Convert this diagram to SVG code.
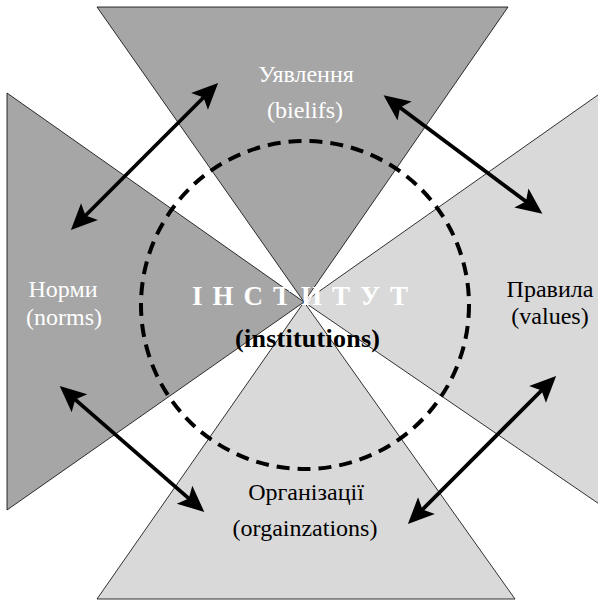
<svg xmlns="http://www.w3.org/2000/svg" width="598" height="602" viewBox="0 0 598 602">
<style>
.tri{stroke:#000;stroke-width:0.8;stroke-linejoin:miter}
.dark{fill:#a6a6a6}
.light{fill:#d9d9d9}
.lbl{font-family:"Liberation Serif","Times New Roman",serif;font-size:24px;text-anchor:middle}
.w{fill:#fff}
.b{fill:#000}
.arr{stroke:#000;stroke-width:3.8;fill:none;marker-start:url(#ah);marker-end:url(#ah)}
</style>
<defs>
<marker id="ah" markerUnits="userSpaceOnUse" markerWidth="30" markerHeight="30" refX="0" refY="0" viewBox="-10 -10 24 20" orient="auto-start-reverse" overflow="visible">
<path d="M12,0 L-9,-9.5 L-4.5,0 L-9,9.5 Z" fill="#000"/>
</marker>
</defs>
<rect width="598" height="602" fill="#fff"/>
<g id="node-top">
<polygon class="tri dark" points="97,7 508,7 304,302"/>
<text class="lbl w" x="306" y="82">Уявлення</text>
<text class="lbl w" x="305" y="118">(bielifs)</text>
</g>
<g id="node-left">
<polygon class="tri dark" points="7,93 7,510 304,302"/>
<text class="lbl w" x="63" y="297">Норми</text>
<text class="lbl w" x="64" y="325">(norms)</text>
</g>
<g id="node-right">
<polygon class="tri light" points="605,90 605,508 304,302"/>
<text class="lbl b" x="550" y="297">Правила</text>
<text class="lbl b" x="550" y="324">(values)</text>
</g>
<g id="node-bottom">
<polygon class="tri light" points="97,599 515,599 304,302"/>
<text class="lbl b" x="306" y="500">Організації</text>
<text class="lbl b" x="305" y="536">(orgainzations)</text>
</g>
<g id="node-center">
<circle cx="305" cy="305" r="164" fill="none" stroke="#000" stroke-width="4" stroke-dasharray="13 8"/>
<text x="192" y="305" font-family="Liberation Serif,'Times New Roman',serif" font-size="27" font-weight="bold" fill="#fff" textLength="216" lengthAdjust="spacing">І Н С Т И Т У Т</text>
<text x="235" y="347" font-family="Liberation Serif,'Times New Roman',serif" font-size="26" font-weight="bold" fill="#000" textLength="145" lengthAdjust="spacing">(institutions)</text>
</g>
<g id="connectors">
<line class="arr" x1="207.5" y1="93.5" x2="81.5" y2="219.5"/>
<line class="arr" x1="395.6" y1="104.2" x2="530.4" y2="204.8"/>
<line class="arr" x1="71" y1="395.9" x2="193" y2="502.1"/>
<line class="arr" x1="545.5" y1="386.5" x2="418.5" y2="513.5"/>
</g>
</svg>
